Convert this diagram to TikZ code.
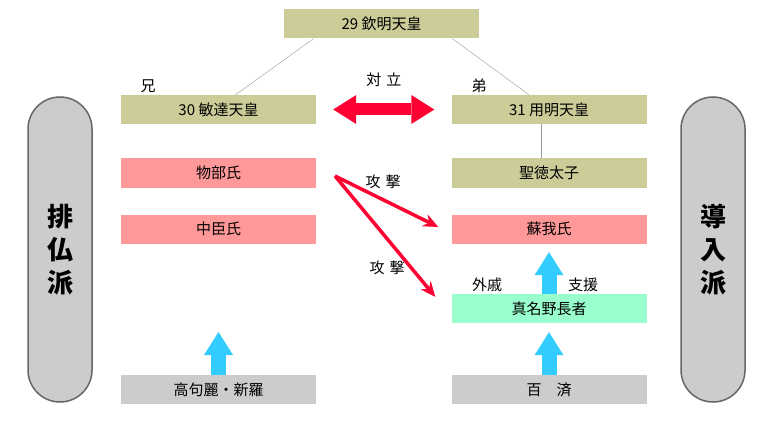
\documentclass[tikz,border=0pt]{standalone}
\usepackage{fontspec}
\setmainfont{Noto Sans CJK JP}
\usetikzlibrary{arrows.meta}
\definecolor{tenno}{HTML}{CCCC99}
\definecolor{uji}{HTML}{FF9999}
\definecolor{choja}{HTML}{99FFCC}
\definecolor{kuni}{HTML}{CCCCCC}
\definecolor{shien}{HTML}{33CCFF}
\definecolor{kogeki}{HTML}{FF0033}
\definecolor{keizu}{HTML}{999999}

\begin{document}
\begin{tikzpicture}[x=1pt, y=-1pt,
 box/.style={rectangle, minimum width=195pt, minimum height=29pt, inner sep=0pt, font=\fontsize{15}{17}\selectfont},
 pill/.style={rectangle, rounded corners=32pt, draw=black!60, line width=1.5pt, fill=kuni, minimum width=64pt, minimum height=305pt, align=center, font=\fontsize{26}{33}\selectfont\bfseries},
 lbl/.style={font=\fontsize{15}{17}\selectfont, inner sep=0pt, text=black},
 fat/.style={shien, line width=15pt, -{Triangle[width=29pt, length=23pt, line width=0pt]}},
 atk/.style={kogeki, line width=3.5pt, -{Stealth[length=15pt, width=13pt]}}]
 \useasboundingbox (0,0) rectangle (778,422);

 \draw node[pill] (haibutsu) at (60,249.5) {排\\仏\\派};
 \draw node[pill] (donyu) at (713,249.5) {導\\入\\派};

 \draw node[box, fill=tenno] (kinmei) at (381.5,24) {29 欽明天皇};
 \draw node[box, fill=tenno] (bidatsu) at (218.5,109.5) {30 敏達天皇};
 \draw node[box, fill=tenno] (yomei) at (549,109.5) {31 用明天皇};
 \draw node[box, fill=uji] (mononobe) at (218.5,173) {物部氏};
 \draw node[box, fill=uji] (nakatomi) at (218.5,229) {中臣氏};
 \draw node[box, fill=kuni] (kourai) at (218.5,389.5) {高句麗・新羅};
 \draw node[box, fill=tenno] (shotoku) at (549,173) {聖徳太子};
 \draw node[box, fill=uji] (soga) at (549,229) {蘇我氏};
 \draw node[box, fill=choja] (nagano) at (549,308.5) {真名野長者};
 \draw node[box, fill=kuni] (kudara) at (549,389.5) {百　済};

 \draw[keizu] ([xshift=-68pt]kinmei.south) -- ([xshift=17pt]bidatsu.north);
 \draw[keizu] ([xshift=71pt]kinmei.south) -- ([xshift=-20pt]yomei.north);
 \draw[keizu] ([xshift=-8pt]yomei.south) -- ([xshift=-8pt]shotoku.north);

 \draw node[lbl] (ani) at (148,86) {兄};
 \draw node[lbl] (otouto) at (479,86) {弟};

 \draw[kogeki, line width=12pt, {Triangle[width=29pt, length=23pt, line width=0pt]}-{Triangle[width=29pt, length=23pt, line width=0pt]}]
 ([xshift=17pt]bidatsu.east) -- ([xshift=-17pt]yomei.west)
 node[midway, above=17pt, lbl] {対\hspace{5pt}立};

 \coordinate (mononobe_out) at (335,176);
 \draw[atk] (mononobe_out) -- ([xshift=-13pt, yshift=2pt]soga.west);
 \draw[atk] (mononobe_out) -- ([xshift=-16pt, yshift=-3pt]nagano.north west);
 \draw node[lbl] (kogeki1) at (383,182) {攻\hspace{5pt}撃};
 \draw node[lbl] (kogeki2) at (387,268) {攻\hspace{5pt}撃};

 \coordinate (kourai_to) at (218.5,332);
 \draw[fat] (kourai.north) -- (kourai_to);
 \draw[fat] (kudara.north) -- ([yshift=-9pt]nagano.south);
 \draw[fat] (nagano.north) -- ([yshift=-8.5pt]soga.south);
 \draw node[lbl] (gaiseki) at (487,285) {外戚};
 \draw node[lbl] (shiengo) at (583,285) {支援};
\end{tikzpicture}
\end{document}
